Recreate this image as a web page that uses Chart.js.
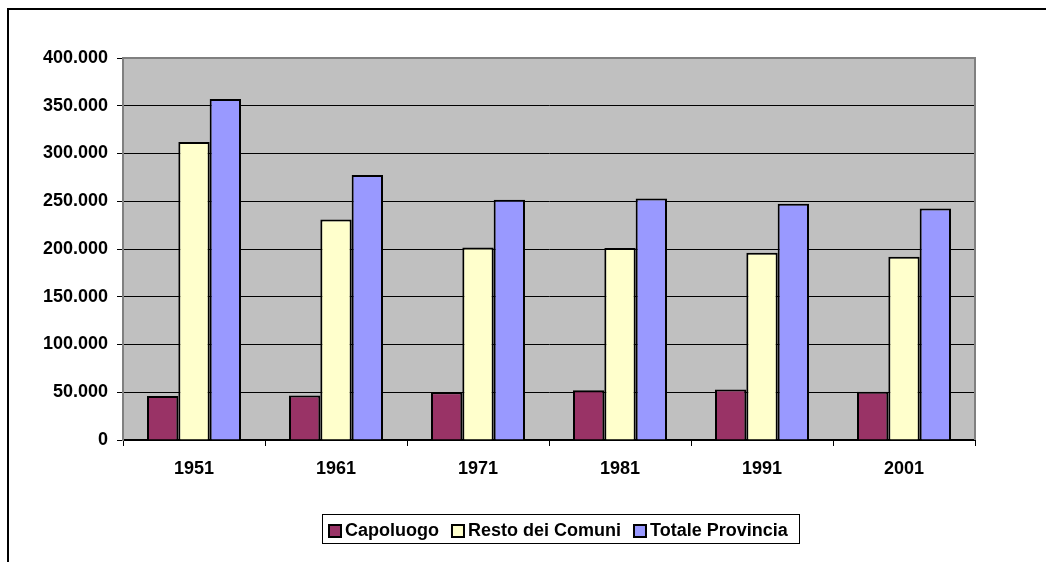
<!DOCTYPE html>
<html lang="it">
<head>
  <meta charset="UTF-8">
  <title>Popolazione residente ai censimenti</title>
  <style>
    body { margin: 0; background: #fff; }
    #wrap { position: relative; width: 1046px; height: 562px; }
  </style>
  <script src="https://cdn.jsdelivr.net/npm/chart.js"></script>
</head>
<body>
  <div id="wrap">
    <canvas id="popChart" width="1046" height="562"></canvas>
  </div>

  <script>
    // dati
    const years = ['1951', '1961', '1971', '1981', '1991', '2001'];
    const capoluogo = [46000, 46500, 50000, 52000, 52800, 50500];
    const restoComuni = [312000, 231000, 201500, 201000, 196000, 192000];
    const totaleProvincia = [357000, 277500, 251500, 253000, 247500, 242500];
    const seriesNames = ['Capoluogo', 'Resto dei Comuni', 'Totale Provincia'];
    const seriesColors = ['#993366', '#FFFFCC', '#9999FF'];

    const FONT = '"Liberation Sans", Arial, sans-serif';

    function formatIt(v) {
      return String(v).replace(/\B(?=(\d{3})+(?!\d))/g, '.');
    }

    // sfondo grigio dell'area del grafico + cornice esterna
    const plotBackground = {
      id: 'plotBackground',
      beforeDraw(chart) {
        const { ctx, chartArea: a } = chart;
        ctx.save();
        ctx.fillStyle = '#fff';
        ctx.fillRect(0, 0, chart.width, chart.height);
        ctx.fillStyle = '#C0C0C0';
        ctx.fillRect(a.left, a.top, a.right - a.left, a.bottom - a.top);
        // cornice esterna (solo alto e sinistra visibili)
        ctx.strokeStyle = '#000';
        ctx.lineWidth = 2;
        ctx.beginPath();
        ctx.moveTo(8, chart.height);
        ctx.lineTo(8, 9);
        ctx.lineTo(chart.width, 9);
        ctx.stroke();
        ctx.restore();
      },
      beforeDatasetsDraw(chart) {
        const { ctx, chartArea: a } = chart;
        ctx.save();
        ctx.strokeStyle = '#808080';
        ctx.lineWidth = 2;
        ctx.beginPath();
        ctx.moveTo(a.left, a.top);
        ctx.lineTo(a.right, a.top);
        ctx.lineTo(a.right, a.bottom);
        ctx.stroke();
        ctx.restore();
      }
    };

    // legenda con riquadro, come nell'originale
    const boxedLegend = {
      id: 'boxedLegend',
      afterDraw(chart) {
        const ctx = chart.ctx;
        ctx.save();
        ctx.font = 'bold 18px ' + FONT;
        ctx.strokeStyle = '#000';
        ctx.lineWidth = 1;
        ctx.strokeRect(322.5, 514.5, 477, 29);
        let x = 329;
        chart.data.datasets.forEach(ds => {
          ctx.fillStyle = ds.backgroundColor;
          ctx.fillRect(x, 525, 12, 12);
          ctx.lineWidth = 2;
          ctx.strokeRect(x, 525, 12, 12);
          ctx.fillStyle = '#000';
          ctx.textBaseline = 'middle';
          ctx.textAlign = 'left';
          ctx.fillText(ds.label, x + 16, 531);
          x += 16 + ctx.measureText(ds.label).width + 13;
        });
        ctx.restore();
      }
    };

    const ctx = document.getElementById('popChart').getContext('2d');
    new Chart(ctx, {
      type: 'bar',
      plugins: [plotBackground, boxedLegend],
      data: {
        labels: years,
        datasets: [capoluogo, restoComuni, totaleProvincia].map((d, i) => ({
          label: seriesNames[i],
          data: d,
          backgroundColor: seriesColors[i],
          borderColor: '#000',
          borderWidth: 2,
          categoryPercentage: 0.662,
          barPercentage: 1.0
        }))
      },
      options: {
        responsive: false,
        animation: false,
        layout: { padding: { left: 0, top: 58, right: 71, bottom: 0 } },
        plugins: {
          legend: { display: false },
          tooltip: { enabled: false }
        },
        scales: {
          x: {
            afterFit(scale) { scale.height = 122; },
            grid: {
              offset: true,
              drawOnChartArea: false,
              drawTicks: true,
              tickLength: 6,
              tickColor: '#000'
            },
            border: { display: true, color: '#000', width: 2 },
            ticks: {
              color: '#000',
              padding: 12,
              font: { family: FONT, size: 18, weight: 'bold' }
            }
          },
          y: {
            min: 0,
            max: 400000,
            afterFit(scale) { scale.width = 123; },
            grid: {
              color: '#000',
              lineWidth: 1,
              drawTicks: true,
              tickLength: 6,
              tickColor: '#000'
            },
            border: { display: true, color: '#808080', width: 2 },
            ticks: {
              stepSize: 50000,
              color: '#000',
              padding: 9,
              font: { family: FONT, size: 18, weight: 'bold' },
              callback: v => formatIt(v)
            }
          }
        }
      }
    });
  </script>
</body>
</html>
